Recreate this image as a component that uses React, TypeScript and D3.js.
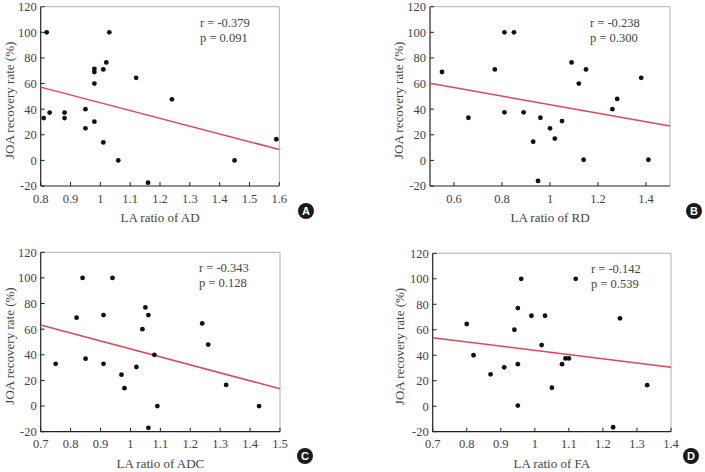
import React from "react";
import * as d3 from "d3";

// ---- Data ----
const adX = [0.82, 1.03, 1.02, 0.98, 0.98, 1.01, 0.98, 1.12, 1.24, 0.81, 0.83, 0.88, 0.88, 0.95, 0.95, 0.98, 1.01, 1.06, 1.16, 1.45, 1.59];
const adY = [100, 100, 76.5, 71.5, 69, 71, 60, 64.5, 47.7, 33, 37.3, 37.3, 33, 40, 25, 30.2, 14, 0, -17.4, 0, 16.5];

const rdX = [0.55, 0.66, 0.77, 0.81, 0.85, 0.81, 0.89, 0.93, 0.96, 0.95, 1.0, 1.02, 1.05, 1.09, 1.12, 1.15, 1.14, 1.26, 1.28, 1.38, 1.41];
const rdY = [69, 33.3, 71, 100, 100, 37.5, 37.5, 14.6, 33.3, -16, 25, 17, 30.7, 76.5, 60, 71, 0.5, 40, 48, 64.5, 0.5];

const adcX = [0.75, 0.82, 0.84, 0.85, 0.91, 0.91, 0.94, 0.97, 0.98, 1.02, 1.04, 1.05, 1.06, 1.08, 1.09, 1.06, 1.24, 1.26, 1.32, 1.43];
const adcY = [33, 69, 100, 37, 71, 33, 100, 24.5, 14, 30.5, 60, 77, 71, 40, 0, -17, 64.5, 48, 16.5, 0];

const faX = [0.8, 0.82, 0.87, 0.91, 0.94, 0.95, 0.96, 0.95, 0.95, 0.99, 1.03, 1.02, 1.05, 1.08, 1.09, 1.1, 1.12, 1.25, 1.23, 1.33];
const faY = [64.5, 40, 25, 30.5, 60, 77, 100, 33, 0.5, 71, 71, 48, 14.5, 33, 37.5, 37.5, 100, 69, -16.5, 16.5];

// regression line: [y at x-domain start, y at x-domain end]
const adFit = [57.2, 8.5];
const rdFit = [60.2, 26.8];
const adcFit = [63.3, 13.5];
const faFit = [53.8, 30.5];

const adXTicks = [0.8, 0.9, 1, 1.1, 1.2, 1.3, 1.4, 1.5, 1.6];
const rdXTicks = [0.6, 0.8, 1, 1.2, 1.4];
const adcXTicks = [0.7, 0.8, 0.9, 1, 1.1, 1.2, 1.3, 1.4, 1.5];
const faXTicks = [0.7, 0.8, 0.9, 1, 1.1, 1.2, 1.3, 1.4];
const yTicks = [-20, 0, 20, 40, 60, 80, 100, 120];

const stats = [
  ["r = -0.379", "p = 0.091"],
  ["r = -0.238", "p = 0.300"],
  ["r = -0.343", "p = 0.128"],
  ["r = -0.142", "p = 0.539"],
];
const xLabels = ["LA ratio of AD", "LA ratio of RD", "LA ratio of ADC", "LA ratio of FA"];
const badges = ["A", "B", "C", "D"];
const yLabel = "JOA recovery rate (%)";

const FONT = "'Liberation Serif', 'DejaVu Serif', serif";
const TXT = "#444";

type PanelProps = {
  x0: number; x1: number; y0: number; y1: number;
  xDomain: [number, number];
  xTicks: number[];
  xs: number[]; ys: number[];
  fit: number[];
  stat: string[];
  xLabel: string;
  badge: string;
  badgePos: [number, number];
  statX: number;
  yLabelX: number;
};

function Panel(p: PanelProps) {
  const x = d3.scaleLinear().domain(p.xDomain).range([p.x0, p.x1]);
  const y = d3.scaleLinear().domain([-20, 120]).range([p.y1, p.y0]);
  const line = d3.line<[number, number]>().x(d => x(d[0])).y(d => y(d[1]));
  const fitPts: [number, number][] = [[p.xDomain[0], p.fit[0]], [p.xDomain[1], p.fit[1]]];
  const fmt = (v: number) => String(+v.toFixed(2));
  return (
    <g>
      {/* frame */}
      <line x1={p.x0} x2={p.x1} y1={p.y0} y2={p.y0} stroke="#b0b0b0" strokeWidth={1} />
      <line x1={p.x1} x2={p.x1} y1={p.y0} y2={p.y1} stroke="#b0b0b0" strokeWidth={1} />
      <line x1={p.x0} x2={p.x0} y1={p.y0} y2={p.y1} stroke="#222" strokeWidth={1.2} />
      <line x1={p.x0} x2={p.x1} y1={p.y1} y2={p.y1} stroke="#222" strokeWidth={1.2} />
      {yTicks.map(t => (
        <g key={"y" + t}>
          <line x1={p.x0} x2={p.x0 + 4} y1={y(t)} y2={y(t)} stroke="#222" strokeWidth={1} />
          <text x={p.x0 - 4} y={y(t)} dy="0.35em" textAnchor="end" fontSize={12.5} fill={TXT} fontFamily={FONT}>{t}</text>
        </g>
      ))}
      {p.xTicks.map(t => (
        <g key={"x" + t}>
          <line x1={x(t)} x2={x(t)} y1={p.y1} y2={p.y1 - 4} stroke="#222" strokeWidth={1} />
          <text x={x(t)} y={p.y1 + 16.5} textAnchor="middle" fontSize={12.5} fill={TXT} fontFamily={FONT}>{fmt(t)}</text>
        </g>
      ))}
      <path d={line(fitPts) || ""} stroke="#d9495a" strokeWidth={1.5} fill="none" />
      {p.xs.map((v, i) => (
        <circle key={i} cx={x(v)} cy={y(p.ys[i])} r={2.4} fill="#111" />
      ))}
      <text x={p.statX} y={p.y0 + 20} fontSize={12.5} fill={TXT} fontFamily={FONT}>{p.stat[0]}</text>
      <text x={p.statX} y={p.y0 + 35} fontSize={12.5} fill={TXT} fontFamily={FONT}>{p.stat[1]}</text>
      <text x={(p.x0 + p.x1) / 2} y={p.y1 + 36} textAnchor="middle" fontSize={13} fill={TXT} fontFamily={FONT}>{p.xLabel}</text>
      <text transform={`translate(${p.yLabelX},${(p.y0 + p.y1) / 2 + 4}) rotate(-90)`} textAnchor="middle" fontSize={13} fill={TXT} fontFamily={FONT}>{yLabel}</text>
      <circle cx={p.badgePos[0]} cy={p.badgePos[1]} r={8} fill="#1a1a1a" />
      <text x={p.badgePos[0]} y={p.badgePos[1]} dy="0.36em" textAnchor="middle" fontSize={11} fontWeight="bold" fill="#fff" fontFamily="'Liberation Sans', Arial, sans-serif">{p.badge}</text>
    </g>
  );
}

export default function App() {
  return (
    <svg width={705} height={472} style={{ position: "absolute", left: 0, top: 0, background: "#fff" }}>
      <Panel x0={40.7} x1={279.3} y0={6.7} y1={186} xDomain={[0.8, 1.6]} xTicks={adXTicks} xs={adX} ys={adY} fit={adFit}
        stat={stats[0]} xLabel={xLabels[0]} badge={badges[0]} badgePos={[306, 211]} statX={200} yLabelX={14} />
      <Panel x0={430} x1={670} y0={6.7} y1={186} xDomain={[0.5, 1.5]} xTicks={rdXTicks} xs={rdX} ys={rdY} fit={rdFit}
        stat={stats[1]} xLabel={xLabels[1]} badge={badges[1]} badgePos={[694, 211]} statX={590} yLabelX={403} />
      <Panel x0={40.7} x1={280} y0={252.3} y1={431.7} xDomain={[0.7, 1.5]} xTicks={adcXTicks} xs={adcX} ys={adcY} fit={adcFit}
        stat={stats[2]} xLabel={xLabels[2]} badge={badges[2]} badgePos={[305, 456]} statX={199} yLabelX={14} />
      <Panel x0={432.7} x1={671} y0={253.3} y1={431.7} xDomain={[0.7, 1.4]} xTicks={faXTicks} xs={faX} ys={faY} fit={faFit}
        stat={stats[3]} xLabel={xLabels[3]} badge={badges[3]} badgePos={[691, 456]} statX={591} yLabelX={404} />
    </svg>
  );
}
